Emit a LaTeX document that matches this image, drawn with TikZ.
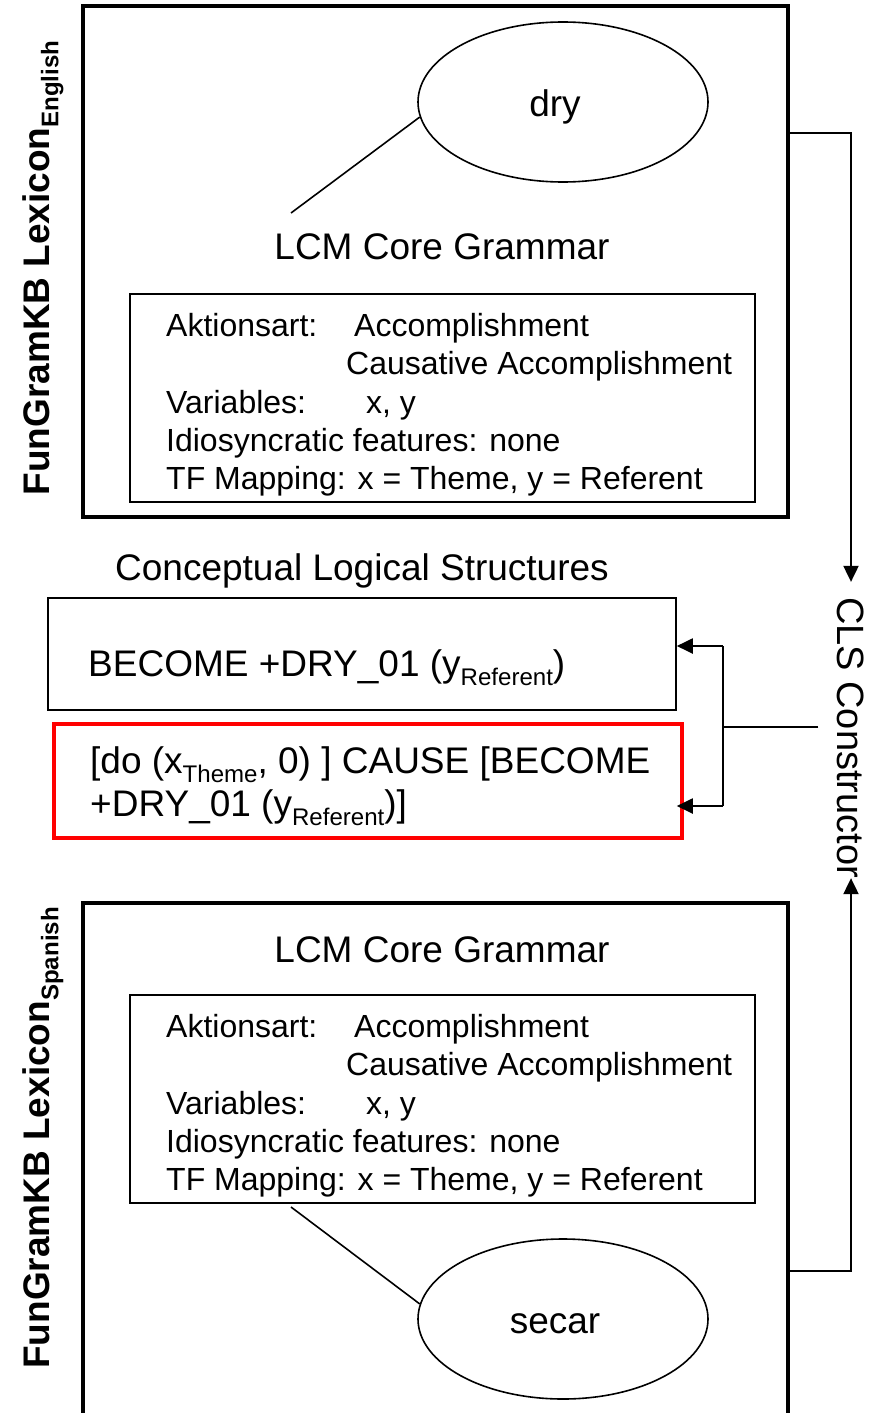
\documentclass[tikz,border=0pt]{standalone}
\usepackage{fontspec}
\setmainfont{Liberation Sans}
\usetikzlibrary{shapes.geometric,arrows.meta}

% lowered, reduced index text
\newcommand{\lowsub}[1]{\raisebox{-0.25em}{\scalebox{0.65}{#1}}}

\begin{document}
\begin{tikzpicture}[x=1pt,y=-1pt,
  frame/.style={draw,line width=4pt,minimum width=705pt,inner sep=0pt},
  panel/.style={draw,line width=1.6pt,inner sep=0pt},
  blob/.style={ellipse,draw,line width=1.6pt,minimum width=290pt,minimum height=160pt,inner sep=0pt,font=\fontsize{37}{42}\selectfont},
  tail/.style={line width=1.6pt},
  conn/.style={line width=2pt},
  arr/.style={line width=2pt,-{Triangle[length=16pt,width=15pt]}},
  big/.style={inner sep=0pt,font=\fontsize{37}{42}\selectfont},
  small/.style={inner sep=0pt,anchor=base west,font=\fontsize{32}{38}\selectfont},
  side/.style={inner sep=0pt,rotate=90,anchor=base,font=\bfseries\fontsize{37}{40}\selectfont}]
\useasboundingbox (0,0) rectangle (877,1413);
\clip (0,0) rectangle (877,1413);

% ---------- English lexicon ----------
\node[frame,minimum height=511pt] (lexEn) at (435.5,261.5) {};
\node[side] (labEn) at (49,268) {FunGramKB Lexicon\lowsub{English}};
\node[blob] (dry) at (563,102) {};
\node[big,anchor=base] (dryTxt) at (555,116) {dry};
\coordinate (dryTail) at (291,213);
\draw[tail] (dryTail) -- (dry.186);
\node[big,anchor=base] (lcmEn) at (442,259) {LCM Core Grammar};
\node[panel,minimum width=625pt,minimum height=208pt] (gramEn) at (442.5,398) {};
\node[small] (enA1) at (166,336) {Aktionsart:};
\node[small] (enA2) at (354,336) {Accomplishment};
\node[small] (enA3) at (346,374) {Causative Accomplishment};
\node[small] (enV1) at (166,413) {Variables:};
\node[small] (enV2) at (366,413) {x, y};
\node[small] (enI) at (166,451) {Idiosyncratic features: none};
\node[small] (enT) at (166,489) {TF Mapping: x = Theme, y = Referent};

% ---------- Conceptual logical structures ----------
\node[big,anchor=base] (clsTitle) at (362,580) {Conceptual Logical Structures};
\node[panel,minimum width=628pt,minimum height=112pt] (become) at (362,654) {};
\node[big,anchor=base west] (becomeTxt) at (88,676) {BECOME +DRY\_01 (y\lowsub{Referent})};
\node[draw=red,line width=4.5pt,inner sep=0pt,minimum width=628pt,minimum height=114pt] (cause) at (368,781) {};
\node[big,anchor=base west] (causeTxt1) at (90,773) {[do (x\lowsub{Theme}, 0) ] CAUSE [BECOME};
\node[big,anchor=base west] (causeTxt2) at (90,816) {+DRY\_01 (y\lowsub{Referent})]};

% ---------- CLS constructor ----------
\node[rotate=-90,inner xsep=0pt,inner ysep=19pt,font=\fontsize{38}{44}\selectfont] (cls) at (851,737.5) {CLS Constructor};

% ---------- Spanish lexicon ----------
\node[frame,minimum height=512pt] (lexEs) at (435.5,1159) {};
\node[side] (labEs) at (49,1138) {FunGramKB Lexicon\lowsub{Spanish}};
\node[big,anchor=base] (lcmEs) at (442,962) {LCM Core Grammar};
\node[panel,minimum width=625pt,minimum height=208pt] (gramEs) at (442.5,1099) {};
\node[small] (esA1) at (166,1037) {Aktionsart:};
\node[small] (esA2) at (354,1037) {Accomplishment};
\node[small] (esA3) at (346,1075) {Causative Accomplishment};
\node[small] (esV1) at (166,1114) {Variables:};
\node[small] (esV2) at (366,1114) {x, y};
\node[small] (esI) at (166,1152) {Idiosyncratic features: none};
\node[small] (esT) at (166,1190) {TF Mapping: x = Theme, y = Referent};
\node[blob] (secar) at (563,1319) {};
\node[big,anchor=base] (secarTxt) at (555,1333) {secar};
\coordinate (secarTail) at (291,1207);
\draw[tail] (secarTail) -- (secar.174);

% ---------- connectors ----------
\coordinate (enOut) at (788,133);
\coordinate (esOut) at (788,1271);
\coordinate (split) at (723,727);
\coordinate (jA) at (723,646);
\coordinate (jB) at (723,806);
\draw[arr,shorten >=15pt] (enOut) -| (cls.west);
\draw[arr] (esOut) -| (cls.east);
\draw[conn] (split -| cls.south) -- (split);
\draw[conn] (jA) -- (jB);
\draw[arr] (jA) -- (become.east |- jA);
\draw[arr] (jB) -- (become.east |- jB);
\end{tikzpicture}
\end{document}
